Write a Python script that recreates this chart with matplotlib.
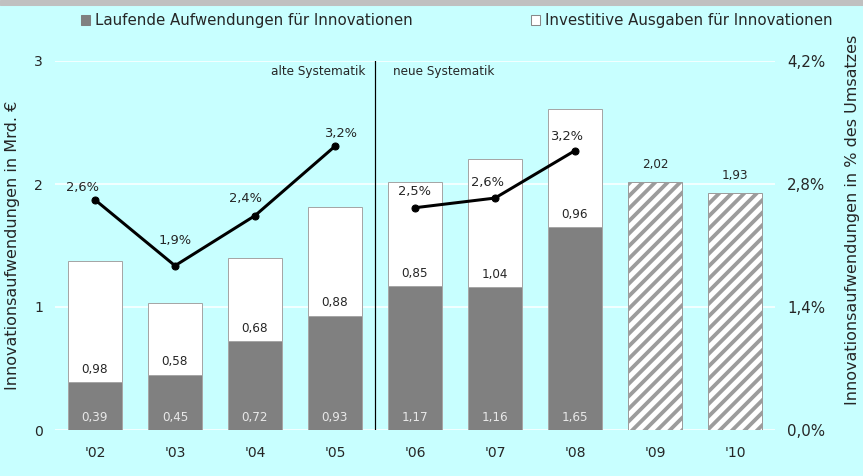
import numpy as np
import matplotlib
matplotlib.use("Agg")
import matplotlib.pyplot as plt
from matplotlib.patches import Patch

# data
years = ["'02", "'03", "'04", "'05", "'06", "'07", "'08", "'09", "'10"]
laufend = [0.39, 0.45, 0.72, 0.93, 1.17, 1.16, 1.65]
investiv = [0.98, 0.58, 0.68, 0.88, 0.85, 1.04, 0.96]
plan = [2.02, 1.93]                      # '09, '10 (hatched)
quote_alt = [2.62, 1.87, 2.44, 3.23]     # % des Umsatzes, '02-'05
quote_neu = [2.53, 2.64, 3.18]           # '06-'08

BG = "#c8ffff"
DARK = "#808080"
EDGE = "#a6a6a6"
TXT = "#262626"
DPI = 75

def pt(px):
    return px * 72.0 / DPI

def de(v, n=2):
    return f"{v:.{n}f}".replace(".", ",")

plt.rcParams["font.family"] = ["DejaVu Sans"]
plt.rcParams["hatch.linewidth"] = pt(3.8)

fig = plt.figure(figsize=(863 / DPI, 476 / DPI), dpi=DPI, facecolor=BG)
ax = fig.add_axes([55 / 863, 46 / 476, 720 / 863, 369 / 476])
ax.set_facecolor(BG)

# grey strip on top
fig.patches.append(plt.Rectangle((0, 1 - 5 / 476), 1, 5 / 476, transform=fig.transFigure,
                                 color="#c0c0c0", zorder=0))

x = np.arange(len(years))
w = 0.675
n = len(laufend)

for y in [0, 1, 2, 3]:
    ax.axhline(y, color="white", lw=pt(1.5), zorder=0)

ax.bar(x[:n], laufend, w, color=DARK, edgecolor=EDGE, lw=pt(1), zorder=2)
ax.bar(x[:n], investiv, w, bottom=laufend, color="white", edgecolor=EDGE, lw=pt(1), zorder=2)
ax.bar(x[n:], plan, w, color="white", edgecolor="#9c9c9c", hatch="//", lw=pt(1), zorder=2)

for i in range(n):
    ax.annotate(de(laufend[i]), (x[i], 0), xytext=(0, 13), textcoords="offset pixels",
                ha="center", va="center", fontsize=pt(12), color="#e8e8e8", zorder=4)
    ax.annotate(de(investiv[i]), (x[i], laufend[i]), xytext=(0, 13), textcoords="offset pixels",
                ha="center", va="center", fontsize=pt(12), color=TXT, zorder=4)
for i, v in enumerate(plan):
    ax.annotate(de(v), (x[n + i], v), xytext=(0, 17), textcoords="offset pixels",
                ha="center", va="center", fontsize=pt(12), color=TXT, zorder=4)

# separator alte / neue Systematik
ax.plot([3.5, 3.5], [0, 3], color="black", lw=pt(1.2), zorder=3)
ax.annotate("alte Systematik", (3.5, 3), xytext=(-10, -10), textcoords="offset pixels",
            ha="right", va="center", fontsize=pt(12), color=TXT)
ax.annotate("neue Systematik", (3.5, 3), xytext=(18, -10), textcoords="offset pixels",
            ha="left", va="center", fontsize=pt(12), color=TXT)

ax.set_xlim(-0.5, 8.5)
ax.set_ylim(0, 3)
ax.set_xticks(x)
ax.set_xticklabels(years)
ax.set_yticks([0, 1, 2, 3])
ax.tick_params(length=0, labelsize=pt(14), colors=TXT)
ax.tick_params(axis="x", pad=pt(16))
ax.tick_params(axis="y", pad=pt(12))
for s in ax.spines.values():
    s.set_visible(False)
ax.set_ylabel("Innovationsaufwendungen in Mrd. €", fontsize=pt(16), color=TXT)
ax.yaxis.set_label_coords(-35 / 720, 0.5)

# rate line on right axis
ax2 = ax.twinx()
ax2.set_ylim(0, 4.2)
ax2.set_yticks([0, 1.4, 2.8, 4.2])
ax2.set_yticklabels([de(t, 1) + "%" for t in [0, 1.4, 2.8, 4.2]])
ax2.tick_params(length=0, labelsize=pt(15), colors=TXT, pad=pt(12))
for s in ax2.spines.values():
    s.set_visible(False)
ax2.set_ylabel("Innovationsaufwendungen in % des Umsatzes", fontsize=pt(16), color=TXT)
ax2.yaxis.set_label_coords(1 + 70 / 720, 0.57)

xa = x[:4]
xn = x[4:7]
ax2.plot(xa, quote_alt, color="black", lw=pt(3), marker="o", ms=pt(7), zorder=5)
ax2.plot(xn, quote_neu, color="black", lw=pt(3), marker="o", ms=pt(7), zorder=5)

offs = [(-12, 12), (0, 25), (-9, 17), (6, 13), (0, 16), (-7, 16), (-8, 14)]
for xi, v, o in zip(list(xa) + list(xn), quote_alt + quote_neu, offs):
    ax2.annotate(de(v, 1) + "%", (xi, v), xytext=o, textcoords="offset pixels",
                 ha="center", va="center", fontsize=pt(13), color=TXT)

handles = [Patch(facecolor=DARK, edgecolor=DARK), Patch(facecolor="white", edgecolor="#888888")]
fig.legend(handles, ["Laufende Aufwendungen für Innovationen", "Investitive Ausgaben für Innovationen"],
           loc="center", bbox_to_anchor=(457 / 863, 1 - 21 / 476), ncol=2, frameon=False,
           fontsize=pt(15), handlelength=0.6, handleheight=0.6, handletextpad=0.33,
           columnspacing=7.9, labelcolor=TXT, borderpad=0, borderaxespad=0)

fig.savefig("out.png", dpi=DPI, facecolor=BG)
